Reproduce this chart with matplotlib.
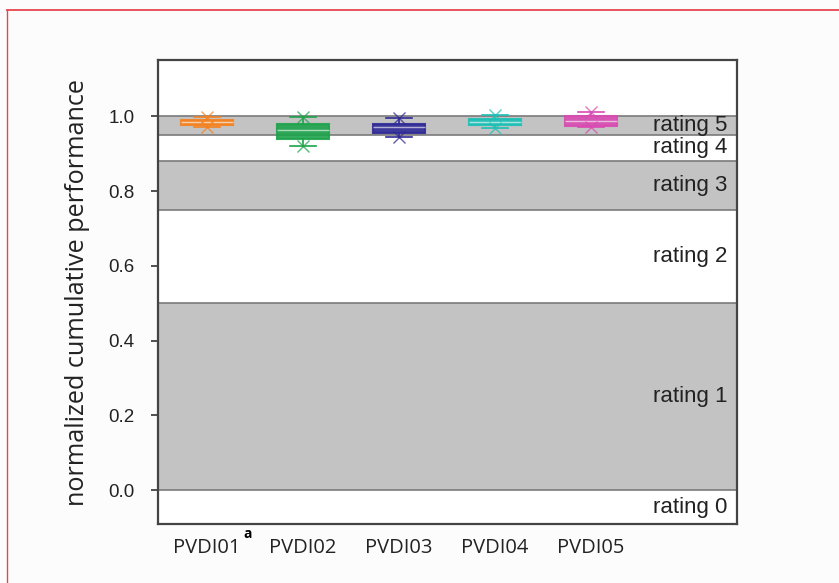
import numpy as np
import matplotlib.pyplot as plt
from matplotlib.lines import Line2D

# devices and box statistics (normalized cumulative performance)
devices = ["PVDI01", "PVDI02", "PVDI03", "PVDI04", "PVDI05"]
colors = ["#f5821f", "#1ea34c", "#2f2a96", "#1cc0b6", "#d94bb2"]
q1 = [0.977, 0.940, 0.955, 0.977, 0.974]
median = [0.985, 0.962, 0.970, 0.985, 0.988]
q3 = [0.990, 0.980, 0.980, 0.993, 1.000]
whislo = [0.972, 0.920, 0.945, 0.968, 0.970]
whishi = [0.998, 0.997, 0.996, 1.004, 1.010]

# rating bands
band_lo = [-0.09, 0.0, 0.5, 0.75, 0.88, 0.95]
band_hi = [0.0, 0.5, 0.75, 0.88, 0.95, 1.0]
band_labels = ["rating 0", "rating 1", "rating 2", "rating 3", "rating 4", "rating 5"]
band_shaded = [False, True, False, True, False, True]

fig = plt.figure(figsize=(8.39, 5.83), dpi=100)
fig.patch.set_facecolor("#fcfcfc")
ax = fig.add_axes([0.1883, 0.1012, 0.690, 0.7958])
ax.set_facecolor("white")

ymin, ymax = -0.09, 1.15
ax.set_xlim(0.49, 6.52)
ax.set_ylim(ymin, ymax)

for lo, hi, lab, shaded in zip(band_lo, band_hi, band_labels, band_shaded):
    if shaded:
        ax.axhspan(lo, hi, facecolor="#c3c3c3", edgecolor="#7a7a7a", lw=1.2, zorder=1)
    ax.text(6.42, (max(lo, ymin) + hi) / 2, lab, ha="right", va="center",
            fontsize=16, family="Liberation Sans", color="#222222", zorder=5)

pos = np.arange(1, len(devices) + 1)
stats = []
for i in range(len(devices)):
    stats.append(dict(q1=q1[i], med=median[i], q3=q3[i],
                      whislo=whislo[i], whishi=whishi[i], fliers=[]))

bp = ax.bxp(stats, positions=pos, widths=0.54, patch_artist=True,
            showcaps=True, zorder=3)
for i, c in enumerate(colors):
    bp["boxes"][i].set_facecolor(c)
    bp["boxes"][i].set_edgecolor(c)
    bp["boxes"][i].set_linewidth(1.5)
    bp["boxes"][i].set_alpha(0.9)
    bp["medians"][i].set_color("white")
    bp["medians"][i].set_alpha(0.6)
    bp["medians"][i].set_linewidth(1.0)
    for w in bp["whiskers"][2 * i:2 * i + 2]:
        w.set_color(c)
        w.set_linewidth(1.2)
    for cp in bp["caps"][2 * i:2 * i + 2]:
        cp.set_color(c)
        cp.set_linewidth(1.2)
    ax.plot([pos[i], pos[i]], [whislo[i], whishi[i]], ls="none", marker="x",
            ms=9, mew=1.0, color=c, alpha=0.75, zorder=4)

ax.set_xticks(pos)
ax.set_xticklabels(devices, fontsize=14.5, family="Open Sans", color="#222222")
ax.tick_params(axis="x", length=0, pad=10)
ax.annotate("a", xy=(1, 0), xycoords=("data", "axes fraction"),
            xytext=(26, -7), textcoords="offset points", fontsize=10,
            fontweight="bold", family="Open Sans", ha="left", va="center")

ax.set_yticks([0.0, 0.2, 0.4, 0.6, 0.8, 1.0])
ax.set_yticklabels(["0.0", "0.2", "0.4", "0.6", "0.8", "1.0"],
                   fontsize=13.5, family="Liberation Sans", color="#222222")
ax.tick_params(axis="y", direction="out", length=5, width=1.2, color="#333333", pad=12)
ax.set_ylabel("normalized cumulative performance", fontsize=18.2,
              family="Open Sans", color="#222222", labelpad=13)

for s in ax.spines.values():
    s.set_color("#444444")
    s.set_linewidth(1.6)

# frame around the panel
fig.add_artist(Line2D([7 / 839, 1], [1 - 10 / 583, 1 - 10 / 583],
                      color="#e8464e", lw=1.3, transform=fig.transFigure))
fig.add_artist(Line2D([7 / 839, 7 / 839], [0, 1 - 10 / 583],
                      color="#e8464e", lw=1.0, transform=fig.transFigure))

plt.savefig("out.png", dpi=100, facecolor=fig.get_facecolor())
